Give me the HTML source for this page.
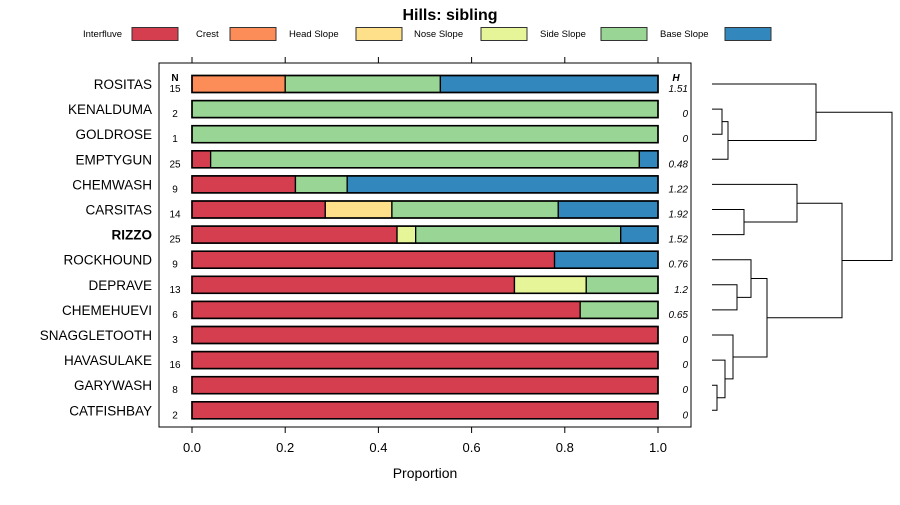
<!DOCTYPE html>
<html><head><meta charset="utf-8"><style>
body{margin:0;background:#fff;}
svg text{font-family:"Liberation Sans",sans-serif;}
</style></head><body>
<svg id="chart" width="900" height="500" xmlns="http://www.w3.org/2000/svg">
<text x="450" y="20" text-anchor="middle" font-size="16" font-weight="bold">Hills: sibling</text>
<g id="legend"></g>
<rect x="159" y="63" width="532" height="364" fill="none" stroke="#000" stroke-width="1"/>
<g id="axis"></g>
<g id="bars"></g>
<g id="dendro" stroke="#000" fill="none" stroke-width="1"></g>
<text x="425" y="478" text-anchor="middle" font-size="14">Proportion</text>
</svg>
<script>
const classes = ["Interfluve","Crest","Head Slope","Nose Slope","Side Slope","Base Slope"];
const colors = ["#D53E4F","#FC8D59","#FEE08B","#E6F598","#99D594","#3288BD"];
const sites = ["ROSITAS","KENALDUMA","GOLDROSE","EMPTYGUN","CHEMWASH","CARSITAS","RIZZO","ROCKHOUND","DEPRAVE","CHEMEHUEVI","SNAGGLETOOTH","HAVASULAKE","GARYWASH","CATFISHBAY"];
const counts = [15,2,1,25,9,14,25,9,13,6,3,16,8,2];
const entropy = ["1.51","0","0","0.48","1.22","1.92","1.52","0.76","1.2","0.65","0","0","0","0"];
const interfluve = [0,0,0,0.04,0.222,0.286,0.44,0.778,0.692,0.833,1,1,1,1];
const crest = [0.2,0,0,0,0,0,0,0,0,0,0,0,0,0];
const headSlope = [0,0,0,0,0,0.143,0,0,0,0,0,0,0,0];
const noseSlope = [0,0,0,0,0,0,0.04,0,0.154,0,0,0,0,0];
const sideSlope = [0.333,1,1,0.92,0.111,0.357,0.44,0,0.154,0.167,0,0,0,0];
const baseSlope = [0.467,0,0,0.04,0.667,0.214,0.08,0.222,0,0,0,0,0,0];
const ticks = [0,0.2,0.4,0.6,0.8,1.0];
const tickLabels = ["0.0","0.2","0.4","0.6","0.8","1.0"];
const series=[interfluve,crest,headSlope,noseSlope,sideSlope,baseSlope];
const NS="http://www.w3.org/2000/svg";
const xs=v=>192+v*466;
const ys=i=>84+i*25.1;
function mk(tag,attrs,parent){const e=document.createElementNS(NS,tag);for(const k in attrs)e.setAttribute(k,attrs[k]);parent.appendChild(e);return e;}
const lg=document.getElementById('legend');
const lgText=[83,196,289,414,540,660], lgRect=[132,230,356,481,601,725];
classes.forEach((c,i)=>{
 const t=mk('text',{x:lgText[i],y:37,'font-size':9.5},lg);t.textContent=c;
 
 
 const r=mk('rect',{x:lgRect[i],y:27.5,width:46,height:13,fill:colors[i],stroke:'#333'},lg);
 
 
});
const ax=document.getElementById('axis');
ticks.forEach((t,i)=>{
 const x=xs(t);
 mk('line',{x1:x,x2:x,y1:427,y2:433,stroke:'#000'},ax);
 mk('line',{x1:x,x2:x,y1:63,y2:57,stroke:'#000'},ax);
 const tx=mk('text',{x:x,y:452,'text-anchor':'middle','font-size':13},ax);tx.textContent=tickLabels[i];
 
 
});
const bg=document.getElementById('bars');
let h=mk('text',{x:175,y:81,'text-anchor':'middle','font-size':10,'font-weight':'bold'},bg);h.textContent='N';
h=mk('text',{x:676,y:81,'text-anchor':'middle','font-size':10,'font-weight':'bold','font-style':'italic'},bg);h.textContent='H';
sites.forEach((s,i)=>{
 const y=ys(i);
 const lab=mk('text',{x:152,y:y+5,'text-anchor':'end','font-size':13.5,'font-weight':s==='RIZZO'?'bold':'normal'},bg);lab.textContent=s;
 
 
 const n=mk('text',{x:175,y:y+8,'text-anchor':'middle','font-size':10},bg);n.textContent=counts[i];
 
 
 const e=mk('text',{x:688,y:y+8,'text-anchor':'end','font-size':10,'font-style':'italic'},bg);e.textContent=entropy[i];
 
 
 let acc=0;
 series.forEach((ser,k)=>{
  const v=ser[i]; if(v<=0)return;
  const r=mk('rect',{x:xs(acc),y:y-8.5,width:xs(acc+v)-xs(acc),height:17,fill:colors[k],stroke:'#000','stroke-width':1.3},bg);
  
  
  acc+=v;
 });
 const o=mk('rect',{x:xs(0),y:y-8.5,width:xs(1)-xs(0),height:17,fill:'none',stroke:'#000','stroke-width':1.6},bg);
 
 
});
// dendrogram merges: [[isNode, index], [isNode, index], mergeX]
const ms=[[[0,1],[0,2],722],[[1,0],[0,3],728],[[0,0],[1,1],816],[[0,5],[0,6],744],[[0,4],[1,3],797],[[0,8],[0,9],737],[[0,7],[1,5],751],[[0,12],[0,13],717],[[0,11],[1,7],725],[[0,10],[1,8],733],[[1,6],[1,9],767],[[1,4],[1,10],842],[[1,2],[1,11],892]];
const dg=document.getElementById('dendro');
const nodes=[];
ms.forEach(m=>{
 const a=m[0][0]?nodes[m[0][1]]:{x:712,y:ys(m[0][1])};
 const b=m[1][0]?nodes[m[1][1]]:{x:712,y:ys(m[1][1])};
 const x=m[2];
 const p=mk('path',{d:`M${a.x},${a.y}H${x}V${b.y}H${b.x}`},dg);
 
 
 nodes.push({x:x,y:(a.y+b.y)/2});
});
</script>
</body></html>
